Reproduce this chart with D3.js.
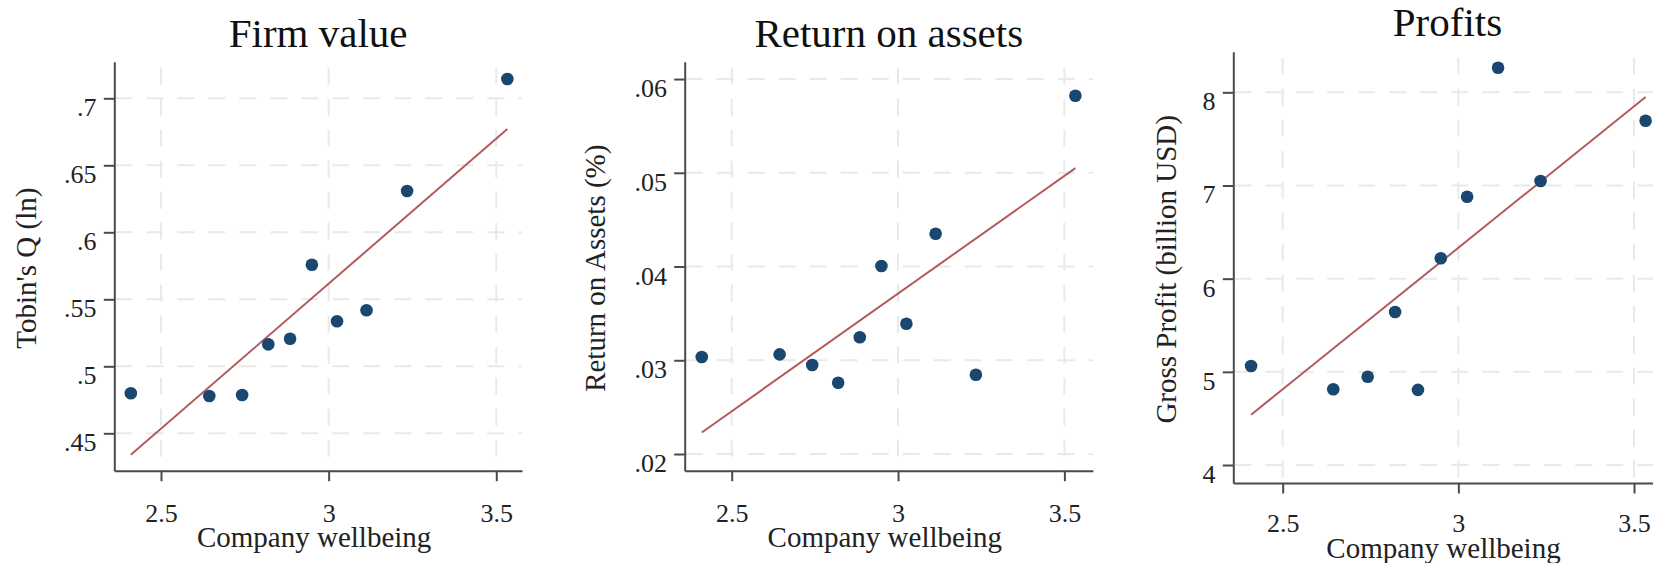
<!DOCTYPE html>
<html>
<head>
<meta charset="utf-8">
<script src="https://cdn.jsdelivr.net/npm/d3@7"></script>
<style>
  html, body { margin: 0; padding: 0; background: #fff; }
  svg { display: block; font-family: "Liberation Serif", "DejaVu Serif", serif; }
</style>
</head>
<body>
<svg id="chart" width="1653" height="563"></svg>
<script>
// binned company wellbeing (same bins in all three panels)
const wellbeing = [2.410, 2.644, 2.742, 2.820, 2.885, 2.950, 3.025, 3.113, 3.234, 3.533]

const tobinsQ = [0.4799, 0.4778, 0.4786, 0.5164, 0.5206, 0.5758, 0.5336, 0.5418, 0.6308, 0.7144]
const returnOnAssets = [0.03035, 0.03063, 0.02949, 0.0276, 0.03245, 0.04005, 0.0339, 0.0435, 0.02846, 0.05822]
const grossProfit = [5.063, 4.813, 4.948, 5.643, 4.806, 6.219, 6.880, 8.264, 7.048, 7.695]

// linear fit, value at first and last bin
const fitTobinsQ = [0.434, 0.677]
const fitReturnOnAssets = [0.0223, 0.0505]
const fitGrossProfit = [4.54, 7.95]

const xTicks = [2.5, 3, 3.5]
const tobinsTicks = [0.45, 0.5, 0.55, 0.6, 0.65, 0.7]
const roaTicks = [0.02, 0.03, 0.04, 0.05, 0.06]
const profitTicks = [4, 5, 6, 7, 8]

const panelTitles = ["Firm value", "Return on assets", "Profits"]
const yTitles = ["Tobin's Q (ln)", "Return on Assets (%)", "Gross Profit (billion USD)"]
const xTitle = "Company wellbeing"

// stata style: drop the leading zero
const fmt = d => String(d).replace(/^0\./, '.')

const panels = [
    {values: tobinsQ, fit: fitTobinsQ, yTicks: tobinsTicks,
        left: 114.3, right: 522, top: 61.7, bottom: 470.7,
        xDomain: [2.3607, 3.5767], yDomain: [0.4221, 0.7273],
        titleY: 47, xLabelY: 51, xTitleY: 76, yTitleX: 78.5},
    {values: returnOnAssets, fit: fitReturnOnAssets, yTicks: roaTicks,
        left: 684.7, right: 1092.9, top: 61.7, bottom: 470.7,
        xDomain: [2.3587, 3.5857], yDomain: [0.01822, 0.06185],
        titleY: 47, xLabelY: 51, xTitleY: 76, yTitleX: 80},
    {values: grossProfit, fit: fitGrossProfit, yTicks: profitTicks,
        left: 1233.3, right: 1661.7, top: 51.7, bottom: 483,
        xDomain: [2.3594, 3.5788], yDomain: [3.807, 8.436],
        titleY: 36, xLabelY: 49, xTitleY: 75, yTitleX: 57.5}
]

const navy = "#1a476f"
const fitColor = "#b45a5c"
const axisColor = "#4a4a4a"
const gridColor = "#e9e9e9"

const svg = d3.select("#chart")

panels.forEach((p, i) => {
    const x = d3.scaleLinear().domain(p.xDomain).range([p.left, p.right])
    const y = d3.scaleLinear().domain(p.yDomain).range([p.bottom, p.top])
    const g = svg.append("g")

    // dashed grid
    g.append("g").selectAll("line.h")
        .data(p.yTicks)
        .enter()
        .append("line")
        .attr("x1", p.left + 1)
        .attr("x2", p.right)
        .attr("y1", d => y(d))
        .attr("y2", d => y(d))
        .attr("stroke", gridColor)
        .attr("stroke-width", 2)
        .attr("stroke-dasharray", "17,14")
    g.append("g").selectAll("line.v")
        .data(xTicks)
        .enter()
        .append("line")
        .attr("x1", d => x(d))
        .attr("x2", d => x(d))
        .attr("y1", p.top + 6)
        .attr("y2", p.bottom)
        .attr("stroke", gridColor)
        .attr("stroke-width", 2)
        .attr("stroke-dasharray", "17,14")

    // axes
    const yAxis = g.append("g")
        .attr("transform", `translate(${p.left},0)`)
        .call(d3.axisLeft(y).tickValues(p.yTicks).tickFormat(fmt).tickSize(10.5).tickSizeOuter(0))
    const xAxis = g.append("g")
        .attr("transform", `translate(0,${p.bottom})`)
        .call(d3.axisBottom(x).tickValues(xTicks).tickFormat(fmt).tickSize(10.5).tickSizeOuter(0))

    ;[yAxis, xAxis].forEach(a => {
        a.select(".domain").attr("stroke", axisColor).attr("stroke-width", 2)
        a.selectAll(".tick line").attr("stroke", axisColor).attr("stroke-width", 2)
        a.selectAll("text")
            .attr("fill", "#222")
            .attr("font-family", "Liberation Serif")
            .attr("font-size", 26)
    })
    yAxis.selectAll("text").attr("x", -17.7).attr("dy", null).attr("y", 17.5)
    xAxis.selectAll("text").attr("dy", null).attr("y", p.xLabelY)

    // fitted line
    g.append("line")
        .attr("x1", x(wellbeing[0]))
        .attr("y1", y(p.fit[0]))
        .attr("x2", x(wellbeing[wellbeing.length - 1]))
        .attr("y2", y(p.fit[1]))
        .attr("stroke", fitColor)
        .attr("stroke-width", 2)

    // bin means
    g.append("g").selectAll("circle")
        .data(p.values)
        .enter()
        .append("circle")
        .attr("cx", (d, k) => x(wellbeing[k]))
        .attr("cy", d => y(d))
        .attr("r", 6.3)
        .attr("fill", navy)

    // titles
    const cx = (p.left + p.right) / 2
    g.append("text")
        .attr("x", cx)
        .attr("y", p.titleY)
        .attr("text-anchor", "middle")
        .attr("font-size", 41)
        .attr("fill", "#111")
        .text(panelTitles[i])
    g.append("text")
        .attr("x", cx - 4)
        .attr("y", p.bottom + p.xTitleY)
        .attr("text-anchor", "middle")
        .attr("font-size", 29)
        .attr("fill", "#222")
        .text(xTitle)
    const ty = (p.top + p.bottom) / 2 + 2
    g.append("text")
        .attr("transform", `translate(${p.left - p.yTitleX},${ty}) rotate(-90)`)
        .attr("text-anchor", "middle")
        .attr("font-size", 29)
        .attr("fill", "#222")
        .text(yTitles[i])
})
</script>
</body>
</html>
